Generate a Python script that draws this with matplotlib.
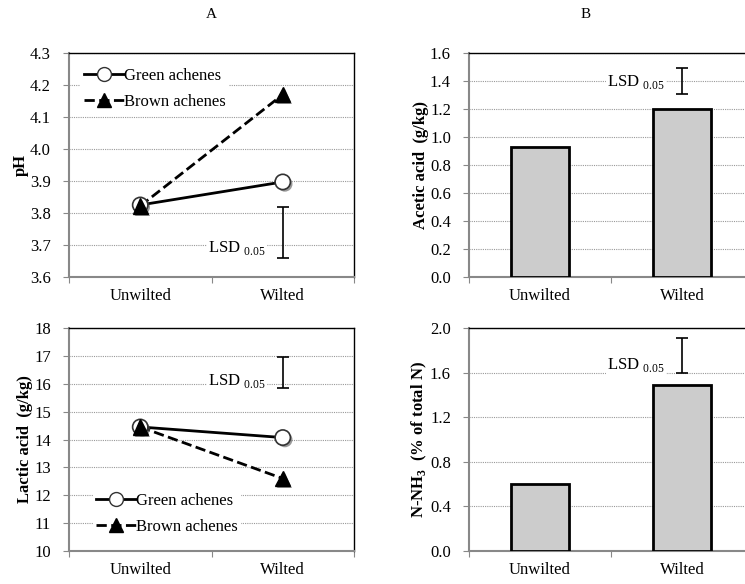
import numpy as np
import matplotlib.pyplot as plt
import matplotlib.patheffects as pe
from matplotlib.lines import Line2D

plt.rcParams['font.family'] = ['Liberation Serif', 'DejaVu Serif']
plt.rcParams['mathtext.fontset'] = 'custom'
plt.rcParams['mathtext.rm'] = 'Liberation Serif'
plt.rcParams['mathtext.bf'] = 'Liberation Serif:bold'
plt.rcParams['font.size'] = 12

categories = ['Unwilted', 'Wilted']

# panel A, pH
ph_green = [3.825, 3.897]
ph_brown = [3.822, 4.170]
ph_lsd = [3.66, 3.82]

# panel A, lactic acid (g/kg)
lactic_green = [14.45, 14.07]
lactic_brown = [14.45, 12.60]
lactic_lsd = [15.85, 16.95]

# panel B, acetic acid (g/kg)
acetic = [0.93, 1.20]
acetic_lsd = [1.31, 1.49]

# panel B, N-NH3 (% of total N)
nnh3 = [0.60, 1.49]
nnh3_lsd = [1.60, 1.91]

fig = plt.figure(figsize=(7.45, 5.84), dpi=100)

ax1 = fig.add_axes([0.0926, 0.5257, 0.3826, 0.3836])
ax2 = fig.add_axes([0.6295, 0.5257, 0.3812, 0.3836])
ax3 = fig.add_axes([0.0926, 0.0565, 0.3826, 0.3818])
ax4 = fig.add_axes([0.6295, 0.0565, 0.3812, 0.3818])

x = np.arange(len(categories))
shadow = [pe.SimplePatchShadow(offset=(1.5, -1.5), shadow_rgbFace='#555555', alpha=0.6), pe.Normal()]


def style(ax, ylim, step, fmt):
	ax.set_xlim(-0.5, 1.5)
	ax.set_ylim(*ylim)
	ax.set_yticks(np.arange(ylim[0], ylim[1] + step / 2, step))
	ax.yaxis.set_major_formatter(plt.FormatStrFormatter(fmt))
	ax.set_xticks([-0.5, 0.5, 1.5])
	ax.set_xticklabels([])
	ax.set_xticks(x, minor=True)
	ax.set_xticklabels(categories, minor=True)
	ax.tick_params(axis='x', which='minor', length=0, pad=8, labelsize=12)
	ax.tick_params(axis='x', which='major', length=4, color='#888888', direction='out')
	ax.tick_params(axis='y', length=4, color='#888888', labelsize=12, pad=9)
	ax.grid(axis='y', linestyle=(0, (1, 1)), color='#999999', linewidth=0.8)
	ax.set_axisbelow(True)
	ax.spines['left'].set_color('#888888')
	ax.spines['bottom'].set_color('#888888')
	ax.spines['left'].set_linewidth(1.5)
	ax.spines['bottom'].set_linewidth(1.5)
	ax.spines['top'].set_color('black')
	ax.spines['right'].set_color('black')
	ax.spines['top'].set_linewidth(1.0)
	ax.spines['right'].set_linewidth(1.0)


def lsd(ax, xpos, lo, hi, tx, ty):
	ax.errorbar(xpos, (lo + hi) / 2, yerr=(hi - lo) / 2, fmt='none', ecolor='black',
		elinewidth=1.2, capsize=4, capthick=1.2, zorder=5)
	ax.text(tx, ty, r'LSD $_{\mathrm{0.05}}$', ha='right', va='center', fontsize=12,
		bbox=dict(facecolor='white', edgecolor='none', pad=1), zorder=4)


def lines(ax, green, brown):
	ax.plot(x, green, '-', color='black', linewidth=2, zorder=3)
	ax.plot(x, brown, '--', color='black', linewidth=2, zorder=3)
	ax.plot(x, green, 'o', markersize=11, markerfacecolor='white', markeredgecolor='#333333',
		markeredgewidth=1.2, zorder=4, path_effects=shadow)
	ax.plot(x, brown, '^', markersize=11, markerfacecolor='black', markeredgecolor='black',
		zorder=5, path_effects=shadow)


def legend(ax, loc, anchor):
	h = [Line2D([], [], color='black', linewidth=2, marker='o', markersize=10,
			markerfacecolor='white', markeredgecolor='#333333'),
		Line2D([], [], color='black', linewidth=2, linestyle='--', marker='^',
			markersize=10, markerfacecolor='black')]
	leg = ax.legend(h, ['Green achenes', 'Brown achenes'], loc=loc, bbox_to_anchor=anchor,
		frameon=True, fancybox=False, edgecolor='none', framealpha=1, fontsize=12,
		handlelength=2.4, handletextpad=0.0, labelspacing=0.6, borderpad=0.2)
	leg.set_zorder(6)


# pH
style(ax1, (3.6, 4.3), 0.1, '%.1f')
lines(ax1, ph_green, ph_brown)
lsd(ax1, 1, ph_lsd[0], ph_lsd[1], 0.88, 3.69)
legend(ax1, 'upper left', (0.01, 0.985))
ax1.set_ylabel('pH', fontweight='bold', fontsize=12, labelpad=1)

# acetic acid
style(ax2, (0.0, 1.6), 0.2, '%.1f')
ax2.bar(x, acetic, width=0.41, color='#cccccc', edgecolor='black', linewidth=2, zorder=3)
lsd(ax2, 1, acetic_lsd[0], acetic_lsd[1], 0.88, 1.39)
ax2.set_ylabel('Acetic acid  (g/kg)', fontweight='bold', fontsize=12, labelpad=1)

# lactic acid
style(ax3, (10, 18), 1, '%d')
lines(ax3, lactic_green, lactic_brown)
lsd(ax3, 1, lactic_lsd[0], lactic_lsd[1], 0.88, 16.1)
legend(ax3, 'lower left', (0.055, 0.02))
ax3.set_ylabel('Lactic acid  (g/kg)', fontweight='bold', fontsize=12, labelpad=1)

# N-NH3
style(ax4, (0.0, 2.0), 0.4, '%.1f')
ax4.bar(x, nnh3, width=0.41, color='#cccccc', edgecolor='black', linewidth=2, zorder=3)
lsd(ax4, 1, nnh3_lsd[0], nnh3_lsd[1], 0.88, 1.67)
ax4.set_ylabel(r'N-NH$_\mathbf{3}$  (% of total N)', fontweight='bold', fontsize=12, labelpad=1)

fig.text(211 / 745, 1 - 14 / 584, 'A', ha='center', va='center', fontsize=11)
fig.text(586 / 745, 1 - 14 / 584, 'B', ha='center', va='center', fontsize=11)

fig.savefig('out.png', dpi=100)
